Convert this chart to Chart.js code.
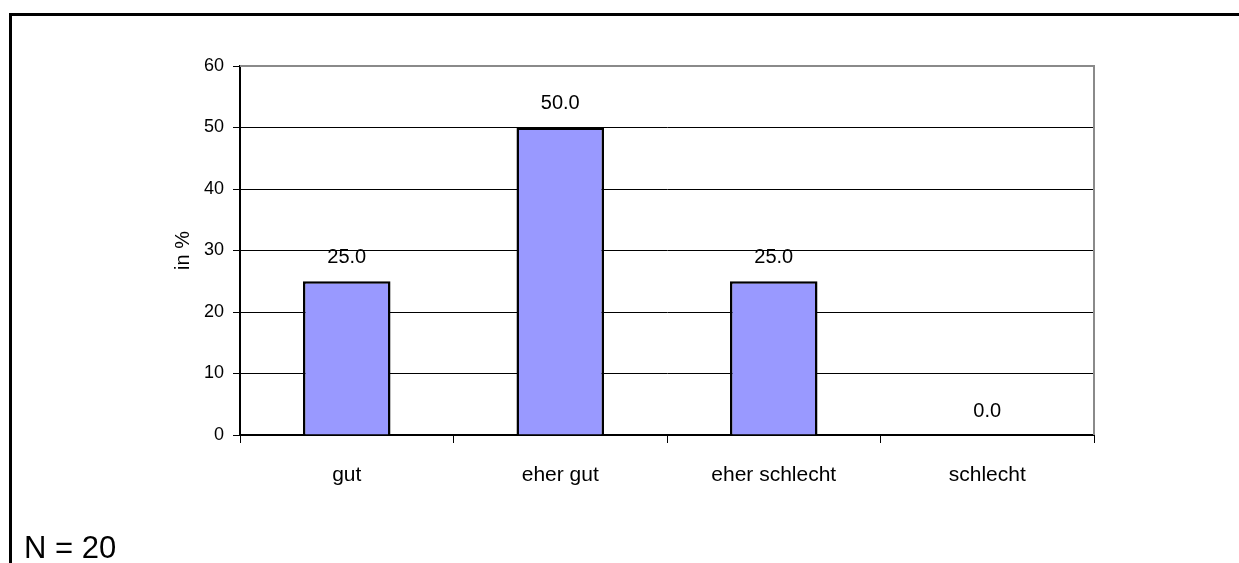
<!DOCTYPE html>
<html>
<head>
<meta charset="utf-8">
<script src="https://cdn.jsdelivr.net/npm/chart.js@4/dist/chart.umd.min.js"></script>
<style>
  html, body { margin: 0; padding: 0; background: #fff; }
  #wrap { width: 1239px; height: 563px; }
</style>
</head>
<body>
<div id="wrap"><canvas id="c" width="1239" height="563"></canvas></div>
<script>
// Antworten in Prozent
const categories = ['gut', 'eher gut', 'eher schlecht', 'schlecht'];
const shares = [25.0, 50.0, 25.0, 0.0];
const yMin = 0, yMax = 60, yStep = 10;
const sampleNote = 'N = 20';
const axisTitle = 'in %';

const FONT = 'Liberation Sans, Arial, sans-serif';

// Frame around the figure plus the sample-size note
const framePlugin = {
  id: 'frame',
  beforeDraw(chart) {
    const ctx = chart.ctx;
    ctx.save();
    ctx.fillStyle = '#fff';
    ctx.fillRect(0, 0, chart.width, chart.height);
    ctx.strokeStyle = '#000';
    ctx.lineWidth = 3;
    ctx.beginPath();
    ctx.moveTo(10.5, chart.height + 2);
    ctx.lineTo(10.5, 14.5);
    ctx.lineTo(chart.width + 2, 14.5);
    ctx.stroke();
    ctx.restore();
  },
  afterDraw(chart) {
    const ctx = chart.ctx;
    const a = chart.chartArea;
    ctx.save();
    // plot area border (top and right)
    ctx.strokeStyle = '#8a8a8a';
    ctx.lineWidth = 2;
    ctx.beginPath();
    ctx.moveTo(a.left, a.top);
    ctx.lineTo(a.right, a.top);
    ctx.lineTo(a.right, a.bottom);
    ctx.stroke();
    // note
    ctx.fillStyle = '#000';
    ctx.font = '31px ' + FONT;
    ctx.textAlign = 'left';
    ctx.textBaseline = 'alphabetic';
    ctx.fillText(sampleNote, 24, 558);
    ctx.restore();
  }
};

// Value labels above each bar
const valueLabels = {
  id: 'valueLabels',
  afterDatasetsDraw(chart) {
    const ctx = chart.ctx;
    const meta = chart.getDatasetMeta(0);
    ctx.save();
    ctx.fillStyle = '#000';
    ctx.font = '20px ' + FONT;
    ctx.textAlign = 'center';
    ctx.textBaseline = 'middle';
    meta.data.forEach((bar, i) => {
      ctx.fillText(shares[i].toFixed(1), bar.x, bar.y - 24);
    });
    ctx.restore();
  }
};

new Chart(document.getElementById('c'), {
  type: 'bar',
  data: {
    labels: categories,
    datasets: [{
      data: shares,
      backgroundColor: '#9999ff',
      borderColor: '#000',
      borderWidth: 2.5,
      borderSkipped: 'bottom',
      categoryPercentage: 1.0,
      barPercentage: 0.41
    }]
  },
  options: {
    responsive: false,
    animation: false,
    layout: { padding: { left: 0, top: 66, right: 145, bottom: 0 } },
    plugins: { legend: { display: false }, tooltip: { enabled: false } },
    scales: {
      x: {
        offset: true,
        grid: {
          offset: true,
          drawOnChartArea: false,
          drawTicks: true,
          tickLength: 8,
          color: '#000',
          lineWidth: 1
        },
        border: { display: true, color: '#000', width: 2 },
        ticks: { color: '#000', font: { family: FONT, size: 21 }, padding: 20, maxRotation: 0 },
        afterFit(scale) { scale.height = 128; }
      },
      y: {
        min: yMin,
        max: yMax,
        ticks: { stepSize: yStep, color: '#000', font: { family: FONT, size: 18 }, padding: 9 },
        grid: {
          color: (c) => (c.tick && c.tick.value === yMax) ? '#8a8a8a' : '#000',
          lineWidth: 1,
          tickLength: 7,
          tickColor: '#000',
          drawTicks: true
        },
        border: { display: true, color: '#000', width: 2 },
        title: {
          display: true,
          text: axisTitle,
          color: '#000',
          font: { family: FONT, size: 20 },
          padding: { top: 171, bottom: 0 }
        },
        afterFit(scale) { scale.width = 240; }
      }
    }
  },
  plugins: [framePlugin, valueLabels]
});
</script>
</body>
</html>
